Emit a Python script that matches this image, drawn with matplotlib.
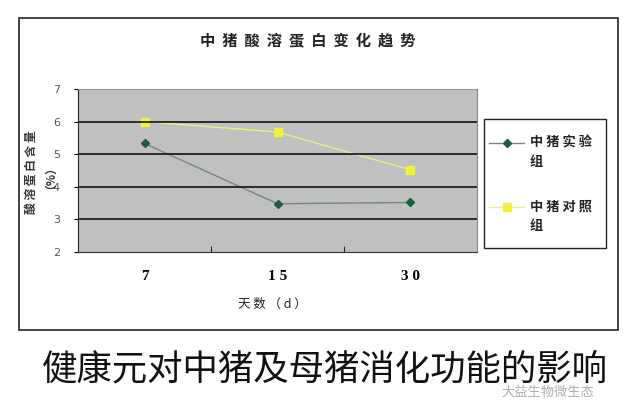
import matplotlib
matplotlib.use('Agg')
import matplotlib.pyplot as plt
from matplotlib.patches import Rectangle
from matplotlib.lines import Line2D

plt.rcParams['font.family'] = ['Noto Sans CJK SC', 'DejaVu Sans']

# data
days = ['7', '15', '30']
test_group = [5.33, 3.48, 3.52]
control_group = [6.0, 5.68, 4.52]
y_ticks = [2, 3, 4, 5, 6, 7]

fig = plt.figure(figsize=(6.4, 4.09), dpi=100)

# outer chart frame
fig.patches.append(Rectangle((19 / 640, 1 - 330 / 409), 599 / 640, 312 / 409,
                             transform=fig.transFigure, fill=False,
                             edgecolor='#222222', linewidth=1.2))

ax = fig.add_axes([78 / 640, 1 - 252 / 409, 399 / 640, 163 / 409])
ax.set_facecolor('#c0c0c0')

x = list(range(len(days)))
ax.plot(x, test_group, color='#6f8a80', linewidth=1, marker='D',
        markersize=4, markerfacecolor='#1f5c3c', markeredgecolor='#1f5c3c')
ax.plot(x, control_group, color='#eeee88', linewidth=1, marker='s',
        markersize=6, markerfacecolor='#f2f23a', markeredgecolor='#f2f23a')

ax.set_xlim(-0.5, 2.5)
ax.set_ylim(2, 7)
ax.set_yticks(y_ticks)
ax.set_yticklabels([str(v) for v in y_ticks], fontsize=8, color='#555555',
                   family='Liberation Sans Narrow')
for v in y_ticks[1:-1]:
    ax.axhline(v, color='#111111', linewidth=1.2)

ax.set_xticks([0.5, 1.5])
ax.set_xticklabels([])
ax.tick_params(axis='x', which='major', direction='in', length=4, color='#222222')
ax.set_xticks(x, minor=True)
ax.set_xticklabels([' '.join(d) for d in days], minor=True, fontsize=11,
                   fontweight='bold', family='Liberation Serif')
ax.tick_params(axis='x', which='minor', length=0, pad=13)
ax.tick_params(axis='y', length=3, pad=10)

ax.spines['left'].set_color('#222222')
ax.spines['bottom'].set_color('#333333')
ax.spines['top'].set_color('#999999')
ax.spines['right'].set_color('#888888')

# titles and labels
fig.text(308 / 640, 1 - 41 / 409, '  '.join('中猪酸溶蛋白变化趋势'), ha='center',
         va='center', fontsize=11, fontweight='bold', color='#222222')
fig.text(272 / 640, 1 - 304 / 409, '天 数 （ d ）', ha='center', va='center',
         fontsize=9, color='#222222')
fig.text(38 / 640, 1 - 172 / 409, '酸 溶 蛋 白 含 量\n（%）', rotation=90,
         ha='center', va='center', fontsize=8.5, fontweight='bold',
         color='#333333', multialignment='center', linespacing=0.95)

# legend box
fig.patches.append(Rectangle((484 / 640, 1 - 248 / 409), 122 / 640, 129 / 409,
                             transform=fig.transFigure, fill=True,
                             facecolor='white', edgecolor='#222222', linewidth=1))
fig.lines.append(Line2D([489 / 640, 524 / 640], [1 - 143 / 409] * 2,
                        transform=fig.transFigure, color='#6f8a80', linewidth=1))
fig.lines.append(Line2D([507 / 640], [1 - 143 / 409], transform=fig.transFigure,
                        marker='D', markersize=4, color='#1f5c3c'))
fig.lines.append(Line2D([489 / 640, 524 / 640], [1 - 207 / 409] * 2,
                        transform=fig.transFigure, color='#eeee88', linewidth=1))
fig.lines.append(Line2D([507 / 640], [1 - 207 / 409], transform=fig.transFigure,
                        marker='s', markersize=6, color='#f2f23a'))
fig.text(530 / 640, 1 - 152 / 409, '中 猪 实 验\n组', ha='left', va='center',
         fontsize=9.5, fontweight='bold', color='#222222', linespacing=1.5)
fig.text(530 / 640, 1 - 216 / 409, '中 猪 对 照\n组', ha='left', va='center',
         fontsize=9.5, fontweight='bold', color='#222222', linespacing=1.5)

# caption below chart
fig.text(325 / 640, 1 - 369 / 409, '健康元对中猪及母猪消化功能的影响', ha='center',
         va='center', fontsize=25.5, color='#111111')
fig.text(548 / 640, 1 - 392 / 409, '大益生物微生态', ha='center', va='center',
         fontsize=9.5, color='#999999', alpha=0.8)

fig.savefig('out.png', dpi=100)
